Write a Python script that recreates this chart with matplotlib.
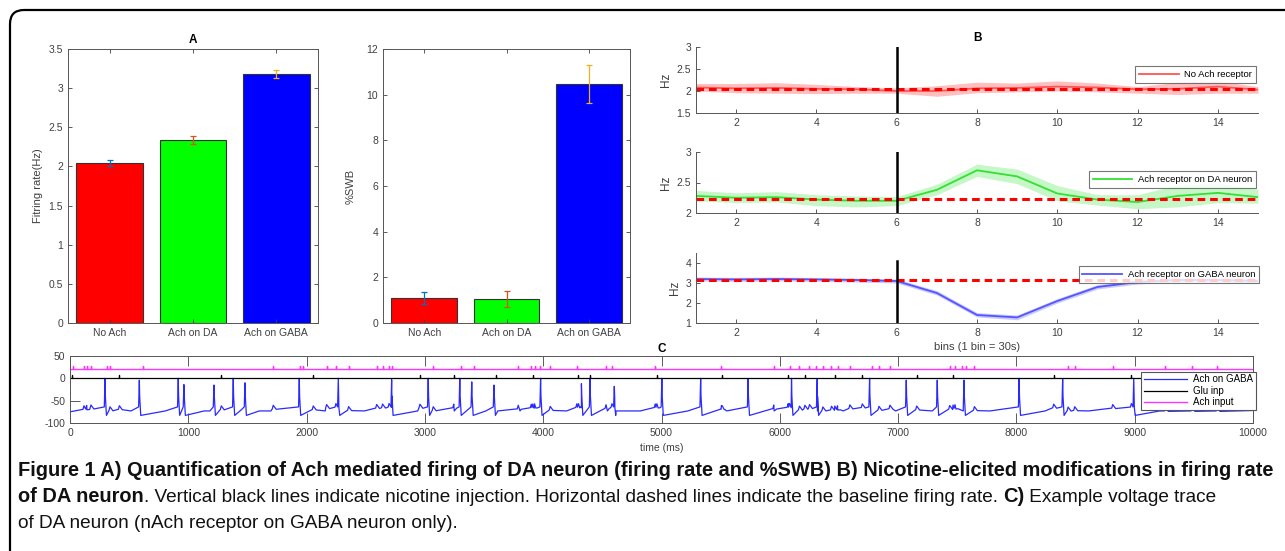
import numpy as np
import matplotlib
matplotlib.use('Agg')
import matplotlib.pyplot as plt
from matplotlib.patches import FancyBboxPatch

plt.rcParams['font.family'] = ['Liberation Sans', 'DejaVu Sans']
plt.rcParams['axes.unicode_minus'] = False

# --- panel A: firing rate and %SWB
groups = ['No Ach', 'Ach on DA', 'Ach on GABA']
bar_colors = ['#ff0000', '#00ff00', '#0000ff']
err_colors = ['#0072bd', '#d95319', '#edb120']
rate_mean = [2.04, 2.34, 3.18]
rate_err = [0.04, 0.05, 0.05]
swb_mean = [1.1, 1.05, 10.48]
swb_err = [0.25, 0.33, 0.83]

# --- panel B: firing rate per bin (1 bin = 30 s)
bins = list(range(1, 16))
no_ach_mean = [2.08, 2.06, 2.07, 2.05, 2.04, 2.00, 2.00, 2.06, 2.07, 2.10, 2.08, 2.04, 2.05, 2.10, 2.03]
no_ach_hi = [2.17, 2.17, 2.19, 2.15, 2.10, 2.07, 2.12, 2.20, 2.18, 2.23, 2.18, 2.10, 2.20, 2.23, 2.10]
no_ach_lo = [2.00, 1.96, 1.95, 1.94, 1.95, 1.95, 1.88, 1.96, 1.98, 2.00, 1.98, 1.95, 1.92, 1.95, 1.95]
no_ach_base = 2.05

da_mean = [2.28, 2.25, 2.26, 2.22, 2.20, 2.20, 2.38, 2.70, 2.60, 2.32, 2.22, 2.18, 2.28, 2.33, 2.26]
da_hi = [2.37, 2.33, 2.35, 2.30, 2.28, 2.27, 2.47, 2.80, 2.72, 2.45, 2.30, 2.30, 2.46, 2.49, 2.39]
da_lo = [2.20, 2.17, 2.18, 2.12, 2.10, 2.12, 2.30, 2.60, 2.48, 2.20, 2.13, 2.07, 2.10, 2.17, 2.16]
da_base = 2.23

gaba_mean = [3.20, 3.18, 3.20, 3.18, 3.15, 3.10, 2.50, 1.40, 1.28, 2.10, 2.80, 3.05, 3.15, 3.15, 3.10]
gaba_hi = [3.30, 3.28, 3.30, 3.27, 3.24, 3.20, 2.62, 1.52, 1.40, 2.22, 2.92, 3.15, 3.25, 3.25, 3.22]
gaba_lo = [3.10, 3.08, 3.10, 3.08, 3.05, 3.00, 2.40, 1.30, 1.16, 2.00, 2.70, 2.95, 3.05, 3.05, 2.98]
gaba_base = 3.15

nicotine_bin = 6

# --- panel C: example voltage trace (times in ms)
spike_t = [296, 586, 915, 963, 1217, 1380, 1479, 1938, 2268, 2719, 3028, 3295, 3396, 3584,
           3978, 4323, 4396, 4601, 5003, 5331, 5732, 6099, 6316, 6759, 7069, 7331, 7557,
           8023, 8391, 8992]
spike_peak = [0, -4, 0, -14, -15, 0, -10, 0, 0, -3, 0, 0, -8, -15,
              0, -12, 0, -18, 0, 0, -2, 0, -2, 0, -4, -4, -4,
              0, -2, 0]
glu_t = [20, 417, 1279, 2056, 2958, 3244, 3604, 3913, 4298, 4396, 4961, 5512, 6071, 6212,
         6465, 6697, 7157, 7464, 8315, 8972]
ach_t = [28, 118, 141, 177, 310, 338, 614, 1718, 1944, 1972, 2169, 2248, 2355, 2592, 2642,
         2697, 2725, 3070, 3301, 3419, 3789, 3899, 3927, 3975, 4059, 4284, 4531, 4581, 4947,
         5506, 5949, 6082, 6166, 6251, 6307, 6364, 6437, 6488, 6592, 6776, 6838, 6931, 7436,
         7481, 7543, 7571, 7645, 8437, 8493, 8814, 9259, 9484, 9696]
reset_mv = -83
rest_mv = -73
pre_mv = -64
bump_mv = 8
glu_level, glu_tick = 0, 8
ach_level, ach_tick = 20, 8

W, H = 1285, 551
fig = plt.figure(figsize=(W / 100, H / 100), dpi=100)
fig.patch.set_facecolor('white')


def px_axes(left, top, right, bottom):
    return fig.add_axes([left / W, 1 - bottom / H, (right - left) / W, (bottom - top) / H])


axis_gray = '#404040'
tick_kw = dict(labelsize=7.5, colors=axis_gray, direction='in', length=3, width=0.6)


def matlab_box(ax):
    for s in ax.spines.values():
        s.set_color('#555555')
        s.set_linewidth(0.7)
    ax.tick_params(top=True, right=True, **tick_kw)


# ---- A: firing rate
ax_a = px_axes(68, 49, 318, 323)
x = np.arange(len(groups))
ax_a.bar(x, rate_mean, width=0.8, color=bar_colors, edgecolor='#333333', linewidth=0.8)
for i in range(len(groups)):
    ax_a.errorbar(x[i], rate_mean[i], yerr=rate_err[i], color=err_colors[i], capsize=2.5,
                  elinewidth=0.9, capthick=0.9)
ax_a.set_xlim(-0.5, 2.5)
ax_a.set_ylim(0, 3.5)
ax_a.set_yticks(np.arange(0, 3.51, 0.5))
ax_a.set_yticklabels(['0', '0.5', '1', '1.5', '2', '2.5', '3', '3.5'])
ax_a.set_xticks(x)
ax_a.set_xticklabels(groups)
ax_a.set_ylabel('Fitring rate(Hz)', fontsize=8, color=axis_gray, labelpad=4)
ax_a.set_title('A', fontsize=8.5, fontweight='bold', pad=4)
matlab_box(ax_a)

# ---- A: %SWB
ax_s = px_axes(383, 49, 630, 323)
ax_s.bar(x, swb_mean, width=0.8, color=bar_colors, edgecolor='#333333', linewidth=0.8)
for i in range(len(groups)):
    ax_s.errorbar(x[i], swb_mean[i], yerr=swb_err[i], color=err_colors[i], capsize=2.5,
                  elinewidth=0.9, capthick=0.9)
ax_s.set_xlim(-0.5, 2.5)
ax_s.set_ylim(0, 12)
ax_s.set_yticks(range(0, 13, 2))
ax_s.set_xticks(x)
ax_s.set_xticklabels(groups)
ax_s.set_ylabel('%SWB', fontsize=8, color=axis_gray, labelpad=8)
matlab_box(ax_s)

# ---- B panels
b_specs = [
    (47, 113, no_ach_mean, no_ach_hi, no_ach_lo, no_ach_base, '#ff5555', '#ffaaaa',
     'No Ach receptor', (1.5, 3), [1.5, 2, 2.5, 3], (1.005, 0.78)),
    (152, 213, da_mean, da_hi, da_lo, da_base, '#33e033', '#b3f5b3',
     'Ach receptor on DA neuron', (2, 3), [2, 2.5, 3], (1.005, 0.76)),
    (253, 323, gaba_mean, gaba_hi, gaba_lo, gaba_base, '#5555ff', '#b8b8ff',
     'Ach receptor on GABA neuron', (1, 4.5), [1, 2, 3, 4], (1.01, 0.88)),
]
b_axes = []
for top, bot, m, hi, lo, base, lc, fc, lab, ylim, yt, anchor in b_specs:
    ax = px_axes(696, top, 1258, bot)
    ax.fill_between(bins, lo, hi, color=fc, alpha=0.75, linewidth=0)
    ax.plot(bins, m, color=lc, lw=1.3, label=lab)
    ax.axhline(base, color='#ff0000', lw=2.2, ls=(0, (2.5, 1.6)))
    vtop = 4.1 if ylim[1] > 4 else ylim[1]
    ax.plot([nicotine_bin, nicotine_bin], [ylim[0], vtop], color='black', lw=1.8)
    ax.set_xlim(1, 15)
    ax.set_ylim(*ylim)
    ax.set_yticks(yt)
    ax.set_yticklabels([('%g' % v) for v in yt])
    ax.set_xticks(range(2, 15, 2))
    ax.set_ylabel('Hz', fontsize=8.5, color=axis_gray, labelpad=3)
    for s in ['top', 'right']:
        ax.spines[s].set_visible(False)
    for s in ['left', 'bottom']:
        ax.spines[s].set_color('#555555')
        ax.spines[s].set_linewidth(0.7)
    ax.tick_params(**tick_kw)
    leg = ax.legend(loc='upper right', bbox_to_anchor=anchor, fontsize=6.8, frameon=True,
                    fancybox=False, handlelength=4.2, borderpad=0.4, handletextpad=0.6)
    leg.get_frame().set_edgecolor('#555555')
    leg.get_frame().set_linewidth(0.8)
    b_axes.append(ax)
b_axes[0].set_title('B', fontsize=8.5, fontweight='bold', pad=4)
b_axes[2].set_xlabel('bins (1 bin = 30s)', fontsize=8, color=axis_gray, labelpad=3)

# ---- C: voltage trace, built as polyline vertices from read-off events
events = sorted(glu_t + ach_t)
vt, vv = [0], [-75]
prev = None
for k, s in enumerate(spike_t):
    start = 0 if prev is None else prev
    if prev is not None:
        vt += [prev + 12, prev + 220]
        vv += [reset_mv, rest_mv]
    # ramp towards threshold; input bumps ride on top
    seg_t = [t for t in events if start + 40 < t < s - 15]
    for t in seg_t:
        frac = (t - start) / max(s - start, 1)
        base = rest_mv + (pre_mv - rest_mv) * frac
        vt += [t - 8, t, t + 25]
        vv += [base, base + bump_mv, base - 1]
    vt += [s - 6, s, s + 3]
    vv += [pre_mv, spike_peak[k], -40]
    prev = s
vt += [prev + 12, prev + 220]
vv += [reset_mv, rest_mv]
for t in [e for e in events if e > prev + 40]:
    vt += [t - 8, t, t + 25]
    vv += [rest_mv, rest_mv + bump_mv, rest_mv - 1]
vt += [10000]
vv += [-72]
order = np.argsort(vt, kind='stable')
vt = np.array(vt)[order]
vv = np.array(vv)[order]

glu_x = np.concatenate([[0], np.repeat(glu_t, 3), [10000]])
glu_y = np.concatenate([[glu_level], np.tile([glu_level, glu_level + glu_tick, glu_level], len(glu_t)), [glu_level]])
ach_x = np.concatenate([[0], np.repeat(ach_t, 3), [10000]])
ach_y = np.concatenate([[ach_level], np.tile([ach_level, ach_level + ach_tick, ach_level], len(ach_t)), [ach_level]])

ax_c = px_axes(70, 356, 1253, 423)
ax_c.plot(vt, vv, color='#2a2aff', lw=0.9, label='Ach on GABA')
ax_c.plot(glu_x, glu_y, color='black', lw=0.9, label='Glu inp')
ax_c.plot(ach_x, ach_y, color='#ff33ff', lw=1.0, label='Ach input')
ax_c.set_xlim(0, 10000)
ax_c.set_ylim(-100, 50)
ax_c.set_xticks(range(0, 10001, 1000))
ax_c.set_yticks([-100, -50, 0, 50])
ax_c.set_xlabel('time (ms)', fontsize=7.5, color=axis_gray, labelpad=4)
matlab_box(ax_c)
ax_c.tick_params(length=7)
ax_c.set_title('C', fontsize=8.5, fontweight='bold', pad=3)
leg = ax_c.legend(loc='upper left', bbox_to_anchor=(0.901, 0.84), fontsize=7, frameon=True,
                  fancybox=False, handlelength=4.5, borderpad=0.3, labelspacing=0.15,
                  handletextpad=0.6, framealpha=1)
leg.get_frame().set_edgecolor('#555555')
leg.get_frame().set_linewidth(0.8)

# ---- frame and caption (pixel coordinates)
ax_bg = fig.add_axes([0, 0, 1, 1], zorder=-1)
ax_bg.set_xlim(0, W)
ax_bg.set_ylim(H, 0)
ax_bg.axis('off')
ax_bg.add_patch(FancyBboxPatch((10, 10), W + 40, H + 40, boxstyle='round,pad=0,rounding_size=14',
                               fill=False, edgecolor='black', linewidth=1.6))

cap_lines = [
    [('Figure 1 A) Quantification of Ach mediated firing of DA neuron (firing rate and %SWB) '
      'B) Nicotine-elicited modifications in firing rate', 'bold')],
    [('of DA neuron', 'bold'),
     ('. Vertical black lines indicate nicotine injection. Horizontal dashed lines indicate the '
      'baseline firing rate. ', 'normal'),
     ('C)', 'bold'), (' Example voltage trace', 'normal')],
    [('of DA neuron (nAch receptor on GABA neuron only).', 'normal')],
]
renderer = fig.canvas.get_renderer()
probe = ax_bg.text(0, 0, cap_lines[0][0][0], fontsize=12, fontweight='bold')
probe_w = probe.get_window_extent(renderer).width
probe.remove()
cap_size = 12 * 1255 / probe_w

for row, pieces in enumerate(cap_lines):
    xpos = 18
    ypos = 471 + row * 26
    for txt, wt in pieces:
        size = cap_size if wt == 'bold' else cap_size * 0.95
        t = ax_bg.text(xpos, ypos, txt, fontsize=size, fontweight=wt, color='#111111',
                       va='center', ha='left')
        xpos += t.get_window_extent(renderer).width

fig.savefig('out.png', dpi=100)
